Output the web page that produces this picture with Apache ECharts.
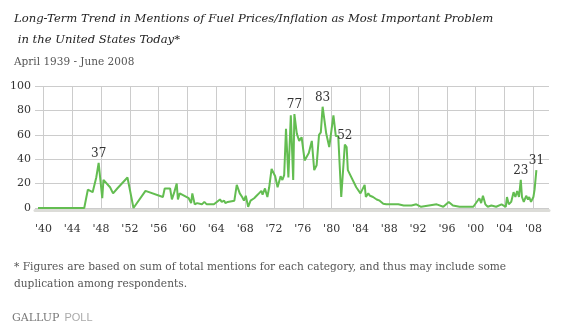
<!DOCTYPE html>
<html><head><meta charset="utf-8">
<script src="https://cdn.jsdelivr.net/npm/echarts@6/dist/echarts.min.js"></script>
<style>html,body{margin:0;padding:0;background:#fff}#c{width:563px;height:321px}</style>
</head><body><div id="c"></div>
<script>
// ---- data ----
const dates = [
 '1939-04','1945-09','1946-03','1946-11','1947-05','1947-09','1948-03','1948-05','1949-04','1949-09',
 '1950-04','1951-09','1952-07','1954-03','1956-08','1956-11','1957-08','1957-11','1958-03','1958-07',
 '1958-09','1958-12','1960-03','1960-07','1960-09','1961-01','1961-05','1962-01','1962-05','1962-09',
 '1963-09','1964-07','1964-10','1965-02','1965-04','1965-08','1966-07','1966-11','1967-04','1967-08',
 '1967-11','1968-02','1968-06','1968-10','1969-01','1969-04','1969-08','1969-12','1970-04','1970-06',
 '1970-10','1971-02','1971-05','1971-09','1972-03','1972-07','1972-12','1973-03','1973-06','1973-09',
 '1974-01','1974-05','1974-09','1974-11','1975-03','1975-07','1975-11','1976-04','1976-11','1977-04',
 '1977-08','1977-12','1978-04','1978-07','1978-10','1979-04','1979-09','1980-04','1980-08','1980-12',
 '1981-05','1981-11','1982-02','1982-04','1983-06','1984-01','1984-04','1984-08','1984-10','1985-02',
 '1985-05','1985-10','1986-04','1986-09','1987-03','1987-08','1989-04','1990-01','1991-02','1991-10',
 '1992-06','1994-08','1995-07','1996-04','1996-11','1997-10','1999-09','2000-07','2000-10','2001-01',
 '2001-05','2001-09','2002-03','2002-11','2003-08','2004-03','2004-05','2004-08','2004-12','2005-04',
 '2005-07','2005-10','2006-01','2006-04','2006-06','2006-09','2007-01','2007-04','2007-06','2007-09',
 '2008-01','2008-03','2008-06'
];
const mentions = [
 0,0,15,13,25,37,8,23,17,12,
 16,25,0,14,9,16,16,7,13,20,
 7,12,8,4,12,3,4,3,5,3,
 3,7,5,6,4,5,6,19,12,9,
 6,10,1,6,5,8,10,12,14,11,
 16,9,17,32,26,17,26,23,27,65,
 25,76,23,77,61,55,58,39,45,55,
 31,35,60,62,83,61,50,76,59,59,
 9,52,50,31,17,12,11,19,9,12,
 10,9,7,6,3.5,3,3,2,2,3,
 1,3,1,5,2,1,1,8,4,10,
 3,1,2,1,3,1,9,3,5,13,
 9,14,9,23,9,5,10,7,9,5,
 9,15,31
];
const labeledDates = ['1947-09','1974-11','1978-10','1981-11','2006-04','2008-06'];
const tickYears = [1940,1944,1948,1952,1956,1960,1964,1968,1972,1976,1980,1984,1988,1992,1996,2000,2004,2008];
const yTicks = [0,20,40,60,80,100];
const titleLines = ['Long-Term Trend in Mentions of Fuel Prices/Inflation as Most Important Problem', ' in the United States Today*'];
const subtitleText = 'April 1939 - June 2008';
const footnoteLines = ['* Figures are based on sum of total mentions for each category, and thus may include some', 'duplication among respondents.'];

// month categories spanning the plotted range
const months = [];
for (let y = 1938; y <= 2010; y++) {
  for (let m = 1; m <= 12; m++) {
    if ((y === 1938 && m < 11) || (y === 2010 && m > 3)) continue;
    months.push(y + '-' + String(m).padStart(2, '0'));
  }
}
const tickSet = new Set(tickYears.map(y => y + '-01'));
const isTick = (i, v) => tickSet.has(v);

const serif = 'DejaVu Serif';
const seriesData = dates.map((d, i) => {
  const item = { value: [d, mentions[i]] };
  if (labeledDates.includes(d)) item.label = { show: true };
  return item;
});

const chart = echarts.init(document.getElementById('c'), null, { renderer: 'canvas' });
chart.setOption({
  animation: false,
  backgroundColor: '#fff',
  title: [
    { text: titleLines.join('\n'), left: 9, top: 3,
      textStyle: { fontFamily: serif, fontStyle: 'italic', fontWeight: 'normal', fontSize: 11.6, lineHeight: 21, color: '#222' } },
    { text: subtitleText, left: 9, top: 50,
      textStyle: { fontFamily: serif, fontWeight: 'normal', fontSize: 10.5, lineHeight: 14, color: '#555' } },
    { text: footnoteLines.join('\n'), left: 9, top: 254,
      textStyle: { fontFamily: serif, fontWeight: 'normal', fontSize: 10.6, lineHeight: 17, color: '#555' } },
    { text: '{a|GALLUP} {b|POLL}', left: 7, top: 304,
      textStyle: { fontWeight: 'normal', rich: {
        a: { fontFamily: serif, fontWeight: 'normal', fontSize: 11, color: '#777', lineHeight: 14 },
        b: { fontFamily: 'Liberation Sans', fontWeight: 'normal', fontSize: 11, color: '#aaa', lineHeight: 14 }
      } } }
  ],
  grid: { left: 35, right: 14, top: 86, bottom: 113, containLabel: false },
  xAxis: {
    type: 'category', data: months, boundaryGap: false,
    axisLine: { show: true, onZero: false, lineStyle: { color: '#dcdcd8', width: 3 } },
    offset: 2,
    axisTick: { show: false },
    axisLabel: { interval: isTick, margin: 14, fontFamily: serif, fontSize: 11, color: '#333',
      formatter: v => "'" + v.slice(2, 4) },
    splitLine: { show: true, interval: isTick, lineStyle: { color: '#cccccc', width: 1 } }
  },
  yAxis: {
    type: 'value', min: 0, max: 100, interval: 20,
    axisLine: { show: false }, axisTick: { show: false },
    axisLabel: { margin: 4, fontFamily: serif, fontSize: 11, color: '#333',
      formatter: v => yTicks.includes(v) ? String(v) : '' },
    splitLine: { show: true, lineStyle: { color: '#cccccc', width: 1 } }
  },
  series: [{
    type: 'line', data: seriesData,
    symbol: 'circle', symbolSize: 0, showSymbol: true, showAllSymbol: true,
    lineStyle: { color: '#63bd51', width: 2 },
    itemStyle: { color: '#63bd51' },
    label: { show: false, position: 'top', distance: 3, fontFamily: serif, fontSize: 12, color: '#333' },
    emphasis: { disabled: true },
    silent: true
  }]
});
</script></body></html>
